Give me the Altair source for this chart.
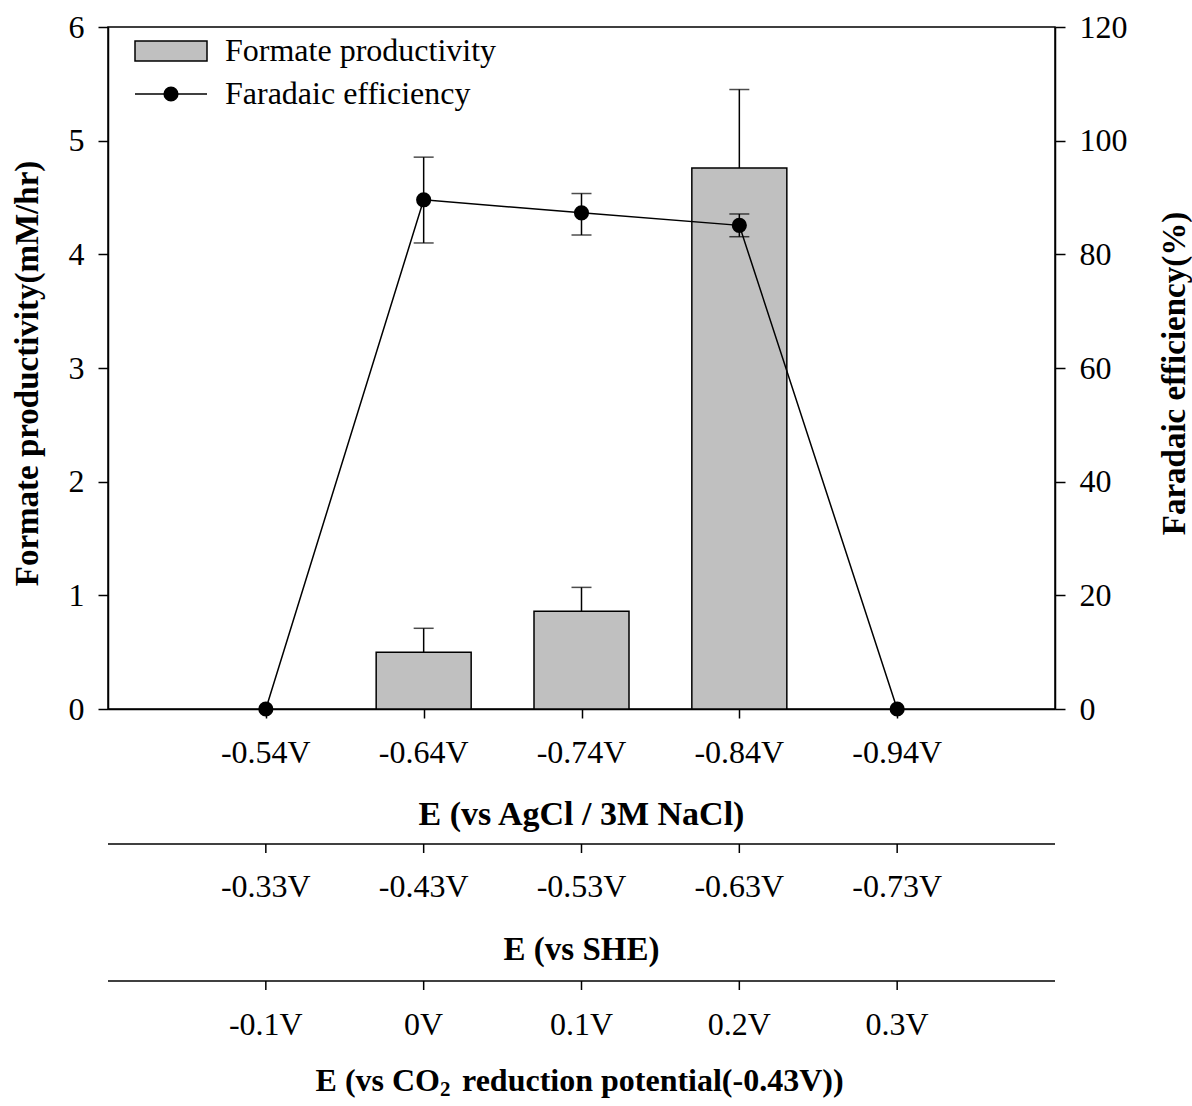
import altair as alt
import pandas as pd

# ---- data ----
positions = [1, 2, 3, 4, 5]
agcl_labels = ["-0.54V", "-0.64V", "-0.74V", "-0.84V", "-0.94V"]
she_labels = ["-0.33V", "-0.43V", "-0.53V", "-0.63V", "-0.73V"]
co2_labels = ["-0.1V", "0V", "0.1V", "0.2V", "0.3V"]

productivity = [0.0, 0.50, 0.86, 4.76, 0.0]
productivity_hi = [None, 0.71, 1.07, 5.45, None]

faradaic = [0.0, 89.6, 87.3, 85.1, 0.0]
faradaic_hi = [None, 97.1, 90.7, 87.1, None]
faradaic_lo = [None, 82.0, 83.4, 83.1, None]

FONT = "Liberation Serif"
W, H = 947, 682

df = pd.DataFrame({
    "pos": positions,
    "agcl": agcl_labels,
    "she": she_labels,
    "co2": co2_labels,
    "prod": productivity,
    "prod_hi": productivity_hi,
    "fe": faradaic,
    "fe_hi": faradaic_hi,
    "fe_lo": faradaic_lo,
})
one = pd.DataFrame({"k": [0]})
span = pd.DataFrame({"a": [0], "b": [6]})

xscale = alt.Scale(domain=[0, 6], nice=False, zero=False, padding=0)
yl = alt.Scale(domain=[0, 6], nice=False, padding=0)
yr = alt.Scale(domain=[0, 120], nice=False, padding=0)

x_axis = alt.Axis(
    values=positions, labels=False, title=None, grid=False, tickSize=9,
    tickColor="black", domainColor="black", tickWidth=1.5, domainWidth=1.5,
    orient="bottom")

def X(field):
    return alt.X(field, scale=xscale, axis=x_axis)

left_axis = alt.Axis(
    title="Formate productivity(mM/hr)", values=[0, 1, 2, 3, 4, 5, 6], grid=False,
    tickSize=10, tickWidth=1.5, tickColor="black", domainColor="black", domainWidth=1.5,
    labelFont=FONT, labelFontSize=32, labelColor="black", labelPadding=14,
    titleFont=FONT, titleFontSize=33, titleFontWeight="bold", titleColor="black",
    titleAngle=270, titleX=-81, titleY=346, titleAlign="center", titleBaseline="middle",
    orient="left")
right_axis = alt.Axis(
    title="Faradaic efficiency(%)", values=[0, 20, 40, 60, 80, 100, 120], grid=False,
    tickSize=10, tickWidth=1.5, tickColor="black", domainColor="black", domainWidth=1.5,
    labelFont=FONT, labelFontSize=32, labelColor="black", labelPadding=14,
    titleFont=FONT, titleFontSize=33, titleFontWeight="bold", titleColor="black",
    titleAngle=270, titleX=119, titleY=346, titleAlign="center", titleBaseline="middle",
    orient="right")

def YL(field):
    return alt.Y(field, scale=yl, axis=left_axis)

def YR(field):
    return alt.Y(field, scale=yr, axis=right_axis)

base = alt.Chart(df)

bars = base.transform_filter("datum.prod > 0").mark_bar(
    size=95, color="#c0c0c0", stroke="black", strokeWidth=1.5
).encode(x=X("pos:Q"), y=YL("prod:Q"))

bar_err = base.transform_filter("datum.prod_hi != null").mark_rule(
    color="black", strokeWidth=1.5
).encode(x=X("pos:Q"), y=YL("prod:Q"), y2="prod_hi:Q")

bar_cap = base.transform_filter("datum.prod_hi != null").mark_tick(
    orient="horizontal", size=20, thickness=1.5, color="black"
).encode(x=X("pos:Q"), y=YL("prod_hi:Q"))

fe_line = base.mark_line(color="black", strokeWidth=1.5).encode(
    x=X("pos:Q"), y=YR("fe:Q"))
fe_err = base.transform_filter("datum.fe_hi != null").mark_rule(
    color="black", strokeWidth=1.5
).encode(x=X("pos:Q"), y=YR("fe_lo:Q"), y2="fe_hi:Q")
fe_cap_hi = base.transform_filter("datum.fe_hi != null").mark_tick(
    orient="horizontal", size=20, thickness=1.5, color="black"
).encode(x=X("pos:Q"), y=YR("fe_hi:Q"))
fe_cap_lo = base.transform_filter("datum.fe_hi != null").mark_tick(
    orient="horizontal", size=20, thickness=1.5, color="black"
).encode(x=X("pos:Q"), y=YR("fe_lo:Q"))
fe_pts = base.mark_point(filled=True, color="black", size=230, opacity=1).encode(
    x=X("pos:Q"), y=YR("fe:Q"))

# ---- extra x-axis rows below the plot ----
def label_row(field, ypix):
    return base.mark_text(font=FONT, fontSize=32, color="black", baseline="middle").encode(
        x=X("pos:Q"), y=alt.value(ypix), text=f"{field}:N")

def rule_row(ypix):
    line = alt.Chart(span).mark_rule(color="black", strokeWidth=1.5).encode(
        x=X("a:Q"), x2="b:Q", y=alt.value(ypix))
    ticks = base.mark_rule(color="black", strokeWidth=1.5).encode(
        x=X("pos:Q"), y=alt.value(ypix), y2=alt.value(ypix + 9))
    return [line, ticks]

def title_text(txt, ypix, xpix=W / 2, align="center", size=33, dy=0):
    return alt.Chart(one).mark_text(
        font=FONT, fontSize=size, fontWeight="bold", color="black",
        baseline="middle", align=align, dy=dy
    ).encode(x=alt.value(xpix), y=alt.value(ypix), text=alt.value(txt))

extras = [
    label_row("agcl", 726),
    title_text("E (vs AgCl / 3M NaCl)", 788, size=34),
    *rule_row(817),
    label_row("she", 860),
    title_text("E (vs SHE)", 923),
    *rule_row(954),
    label_row("co2", 998),
    title_text("E (vs CO", 1054, xpix=332, align="right", size=32),
    title_text("2", 1054, xpix=332, align="left", size=21, dy=9),
    title_text("reduction potential(-0.43V))", 1054, xpix=354, align="left", size=32),
]

# ---- legend ----
legend = [
    alt.Chart(one).mark_rect(color="#c0c0c0", stroke="black", strokeWidth=1.5).encode(
        x=alt.value(27), x2=alt.value(99), y=alt.value(14), y2=alt.value(34)),
    alt.Chart(one).mark_rule(color="black", strokeWidth=1.5).encode(
        x=alt.value(27), x2=alt.value(99), y=alt.value(67)),
    alt.Chart(one).mark_point(filled=True, color="black", size=230, opacity=1).encode(
        x=alt.value(63), y=alt.value(67)),
    alt.Chart(one).mark_text(font=FONT, fontSize=32, color="black", align="left",
                             baseline="middle").encode(
        x=alt.value(117), y=alt.value(24), text=alt.value("Formate productivity")),
    alt.Chart(one).mark_text(font=FONT, fontSize=32, color="black", align="left",
                             baseline="middle").encode(
        x=alt.value(117), y=alt.value(67), text=alt.value("Faradaic efficiency")),
]

left_all = alt.layer(bars, bar_err, bar_cap, *extras, *legend)
right_all = alt.layer(fe_line, fe_err, fe_cap_hi, fe_cap_lo, fe_pts)

chart = alt.layer(left_all, right_all).resolve_scale(y="independent").properties(
    width=W, height=H,
    autosize=alt.AutoSizeParams(type="none"),
    padding={"left": 108, "top": 27, "right": 137, "bottom": 397},
    background="white",
).configure_view(stroke="black", strokeWidth=1.5)

chart.save("out.html", embed_options={"renderer": "svg", "actions": False})
